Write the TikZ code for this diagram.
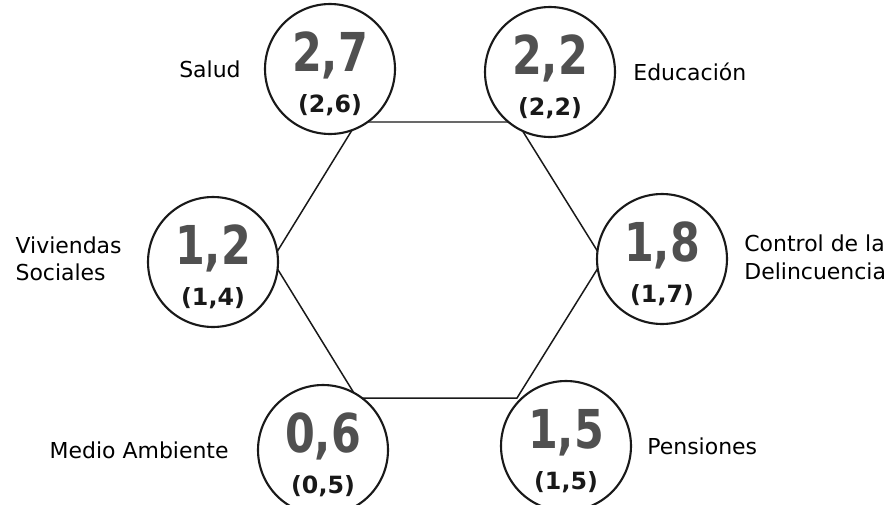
\documentclass[tikz,border=0pt]{standalone}
\usepackage{fontspec}
\setmainfont{DejaVu Sans}
\newfontfamily\bignum[FakeStretch=0.8]{DejaVu Sans Bold}
\usetikzlibrary{positioning}
\definecolor{numgrey}{RGB}{80,80,80}
\definecolor{inkblack}{RGB}{25,25,25}

\begin{document}
\begin{tikzpicture}[x=0.02cm, y=-0.02cm,
    ring/.style={circle, draw=inkblack, line width=1.2pt, fill=white,
      minimum size=2.6cm, inner sep=0pt},
    bigval/.style={text=numgrey, font=\bignum\fontsize{30.5}{31}\selectfont,
      inner sep=0pt, anchor=base},
    subval/.style={text=inkblack, font=\bfseries\fontsize{13.5}{14}\selectfont,
      inner sep=0pt, anchor=base},
    lbl/.style={font=\fontsize{12.5}{15.5}\selectfont, align=left, inner sep=0pt},
    hexline/.style={draw=inkblack, line width=0.85pt}]
    \useasboundingbox (0,0) rectangle (896,504);
    % hexagon behind the circles
    \coordinate (hexA) at (357,122);
    \coordinate (hexB) at (517,122);
    \coordinate (hexC) at (603,260);
    \coordinate (hexD) at (517,398);
    \coordinate (hexE) at (357,398);
    \coordinate (hexF) at (272,260);
    \draw[hexline] (hexA) -- (hexB) -- (hexC) -- (hexD) -- (hexE) -- (hexF) -- cycle;
    % circles with values
    \foreach \id/\px/\py/\val/\sub in {salud/330/69/{2,7}/{(2,6)},
        educ/550/72/{2,2}/{(2,2)}, viv/213/262/{1,2}/{(1,4)},
        delinc/662/259/{1,8}/{(1,7)}, medio/323/450/{0,6}/{(0,5)},
        pens/566/446/{1,5}/{(1,5)}}{
      \node[ring] (\id) at (\px,\py) {};
      \node[bigval] (\id-val) at ([yshift=-1.5pt]\id.center) {\val};
      \node[subval] (\id-sub) at ([yshift=-24.5pt]\id.center) {\sub};
    }
    % labels
    \node[lbl, left=0.46cm of salud] (salud-lbl) {Salud};
    \node[lbl, right=0.34cm of educ] (educ-lbl) {Educación};
    \node[lbl, left=0.5cm of viv, yshift=2pt] (viv-lbl) {Viviendas\\Sociales};
    \node[lbl, right=0.32cm of delinc, yshift=1pt] (delinc-lbl) {Control de la\\Delincuencia};
    \node[lbl, left=0.56cm of medio] (medio-lbl) {Medio Ambiente};
    \node[lbl, right=0.3cm of pens] (pens-lbl) {Pensiones};
  \end{tikzpicture}
\end{document}
